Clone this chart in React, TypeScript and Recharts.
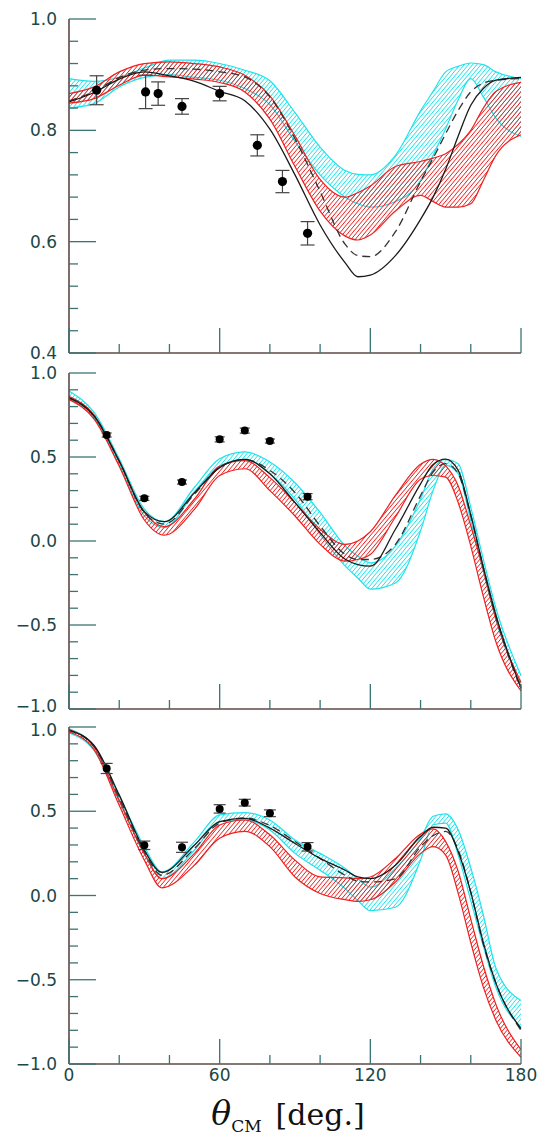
import React from 'react';
import { ComposedChart, Area, Line, Scatter, ErrorBar, XAxis, YAxis } from 'recharts';

// ---- top panel ----
const theta1 = [0, 10, 20, 30, 40, 50, 60, 70, 80, 90, 100, 110, 115, 120, 130, 140, 145, 150, 155, 160, 165, 170, 180];
const cyanLo1 = [0.840, 0.848, 0.878, 0.895, 0.900, 0.895, 0.890, 0.875, 0.846, 0.780, 0.720, 0.680, 0.668, 0.662, 0.672, 0.710, 0.755, 0.803, 0.855, 0.893, 0.860, 0.822, 0.789];
const cyanHi1 = [0.893, 0.888, 0.895, 0.912, 0.926, 0.926, 0.920, 0.908, 0.889, 0.832, 0.770, 0.728, 0.721, 0.720, 0.755, 0.835, 0.870, 0.905, 0.915, 0.921, 0.918, 0.905, 0.893];
const redLo1 = [0.849, 0.857, 0.881, 0.899, 0.896, 0.892, 0.886, 0.869, 0.820, 0.735, 0.655, 0.610, 0.603, 0.612, 0.655, 0.683, 0.672, 0.662, 0.662, 0.668, 0.710, 0.755, 0.792];
const redHi1 = [0.866, 0.878, 0.905, 0.920, 0.923, 0.920, 0.914, 0.899, 0.862, 0.790, 0.712, 0.680, 0.688, 0.700, 0.735, 0.744, 0.750, 0.758, 0.775, 0.800, 0.840, 0.870, 0.886];
const solid1 = [0.851, 0.868, 0.892, 0.905, 0.898, 0.888, 0.870, 0.853, 0.802, 0.720, 0.630, 0.562, 0.537, 0.540, 0.575, 0.640, 0.680, 0.730, 0.790, 0.845, 0.875, 0.890, 0.895];
const dashed1 = [0.853, 0.870, 0.895, 0.908, 0.911, 0.910, 0.905, 0.896, 0.860, 0.785, 0.690, 0.595, 0.575, 0.573, 0.618, 0.708, 0.750, 0.794, 0.836, 0.869, 0.885, 0.890, 0.893];
const dotX1 = [11, 30.5, 35.5, 45, 60, 75, 85, 95];
const dotY1 = [0.872, 0.869, 0.866, 0.843, 0.866, 0.773, 0.708, 0.615];
const dotE1 = [0.026, 0.030, 0.021, 0.014, 0.013, 0.019, 0.020, 0.021];

// ---- middle panel ----
const theta2 = [0, 10, 20, 30, 38, 50, 60, 70, 80, 90, 100, 110, 115, 120, 130, 140, 145, 150, 155, 160, 165, 170, 180];
const cyanLo2 = [0.843, 0.735, 0.455, 0.15, 0.08, 0.29, 0.447, 0.486, 0.40, 0.248, 0.04, -0.15, -0.22, -0.287, -0.25, 0.06, 0.30, 0.45, 0.40, 0.12, -0.18, -0.47, -0.86];
const cyanHi2 = [0.893, 0.765, 0.49, 0.19, 0.115, 0.32, 0.49, 0.53, 0.47, 0.347, 0.17, -0.03, -0.09, -0.13, -0.03, 0.25, 0.43, 0.485, 0.46, 0.20, -0.11, -0.40, -0.80];
const redLo2 = [0.843, 0.725, 0.445, 0.125, 0.035, 0.19, 0.39, 0.43, 0.30, 0.149, -0.02, -0.12, -0.11, -0.08, 0.143, 0.367, 0.39, 0.38, 0.228, -0.03, -0.33, -0.60, -0.893];
const redHi2 = [0.862, 0.75, 0.475, 0.17, 0.085, 0.25, 0.445, 0.478, 0.377, 0.228, 0.07, -0.02, 0.0, 0.055, 0.272, 0.457, 0.486, 0.447, 0.328, 0.09, -0.17, -0.46, -0.843];
const solid2 = [0.853, 0.744, 0.476, 0.175, 0.115, 0.288, 0.437, 0.486, 0.40, 0.228, 0.05, -0.109, -0.14, -0.15, 0.07, 0.34, 0.455, 0.487, 0.42, 0.155, -0.155, -0.44, -0.875];
const dashed2 = [0.85, 0.745, 0.475, 0.17, 0.10, 0.28, 0.44, 0.485, 0.42, 0.288, 0.09, -0.08, -0.11, -0.11, -0.02, 0.27, 0.41, 0.46, 0.40, 0.15, -0.16, -0.45, -0.88];
const dotX2 = [15, 30, 45, 60, 70, 80, 95];
const dotY2 = [0.631, 0.254, 0.351, 0.605, 0.657, 0.595, 0.264];
const dotE2 = [0.012, 0.012, 0.012, 0.015, 0.015, 0.012, 0.018];

// ---- bottom panel ----
const theta3 = [0, 10, 20, 30, 37, 50, 60, 70, 80, 90, 100, 110, 115, 120, 130, 140, 145, 150, 155, 160, 165, 170, 180];
const cyanLo3 = [0.965, 0.86, 0.56, 0.245, 0.10, 0.27, 0.438, 0.448, 0.389, 0.25, 0.15, 0.04, -0.03, -0.09, -0.07, 0.21, 0.42, 0.43, 0.24, -0.03, -0.30, -0.545, -0.782];
const cyanHi3 = [0.99, 0.885, 0.59, 0.29, 0.14, 0.32, 0.478, 0.492, 0.448, 0.329, 0.25, 0.16, 0.10, 0.05, 0.16, 0.34, 0.47, 0.485, 0.39, 0.165, -0.115, -0.43, -0.623];
const redLo3 = [0.97, 0.865, 0.535, 0.21, 0.045, 0.18, 0.34, 0.38, 0.29, 0.11, 0.012, -0.025, -0.035, -0.025, 0.08, 0.25, 0.29, 0.24, 0.013, -0.28, -0.544, -0.74, -0.96];
const redHi3 = [0.985, 0.88, 0.565, 0.25, 0.10, 0.25, 0.418, 0.448, 0.36, 0.21, 0.111, 0.105, 0.10, 0.11, 0.22, 0.365, 0.395, 0.32, 0.143, -0.14, -0.417, -0.646, -0.915];
const solid3 = [0.98, 0.89, 0.597, 0.27, 0.137, 0.30, 0.438, 0.458, 0.40, 0.309, 0.22, 0.15, 0.11, 0.10, 0.18, 0.35, 0.405, 0.40, 0.26, 0.02, -0.28, -0.52, -0.79];
const dashed3 = [0.98, 0.885, 0.58, 0.26, 0.12, 0.28, 0.43, 0.46, 0.415, 0.32, 0.22, 0.12, 0.085, 0.08, 0.10, 0.29, 0.355, 0.38, 0.27, 0.02, -0.29, -0.52, -0.80];
const dotX3 = [15, 30, 45, 60, 70, 80, 95];
const dotY3 = [0.754, 0.298, 0.286, 0.514, 0.551, 0.488, 0.289];
const dotE3 = [0.03, 0.025, 0.03, 0.025, 0.02, 0.02, 0.025];

// ---- axes ----
const xTicks = [0, 20, 40, 60, 80, 100, 120, 140, 160, 180];
const xMajor = [0, 60, 120, 180];
const yTicks1 = [0.4, 0.44, 0.48, 0.52, 0.56, 0.6, 0.64, 0.68, 0.72, 0.76, 0.8, 0.84, 0.88, 0.92, 0.96, 1.0];
const yMajor1 = [0.4, 0.6, 0.8, 1.0];
const yTicksFull = [-1, -0.9, -0.8, -0.7, -0.6, -0.5, -0.4, -0.3, -0.2, -0.1, 0, 0.1, 0.2, 0.3, 0.4, 0.5, 0.6, 0.7, 0.8, 0.9, 1.0];
const yMajorFull = [-1, -0.5, 0, 0.5, 1.0];

const TICK = '#3a7474';
const AXIS = '#5e4846';
const LABEL = '#1c4747';
const CYAN = '#1fe3ec';
const RED = '#ee2020';
const FONT = '"DejaVu Sans", sans-serif';

const isMajor = (v: number, majors: number[]) => majors.some((m) => Math.abs(m - v) < 1e-6);
const fmt = (v: number) => (v < 0 ? '\u2212' + Math.abs(v).toFixed(1) : v.toFixed(1));

function YTick(props: any) {
  const { x, y, payload, majors, topNudge, bottomNudge, lo, hi } = props;
  const major = isMajor(payload.value, majors);
  const ax = x + 12;
  let dy = 0;
  if (Math.abs(payload.value - hi) < 1e-6) dy = topNudge || 0;
  if (Math.abs(payload.value - lo) < 1e-6) dy = bottomNudge || 0;
  return (
    <g>
      <line x1={ax} x2={ax + (major ? 27 : 9)} y1={y} y2={y} stroke={TICK} strokeWidth={1.3} />
      {major && (
        <text x={x} y={y + dy} dy="0.36em" textAnchor="end" fill={LABEL} fontSize={17} fontFamily={FONT}>
          {fmt(payload.value)}
        </text>
      )}
    </g>
  );
}

function XTick(props: any) {
  const { x, y, payload, showLabel } = props;
  const major = isMajor(payload.value, xMajor);
  return (
    <g>
      <line x1={x} x2={x} y1={y} y2={y - (major ? 25 : 9)} stroke={TICK} strokeWidth={1.3} />
      {showLabel && major && (
        <text x={x} y={y + 17} textAnchor="middle" fill={LABEL} fontSize={17} fontFamily={FONT}>
          {payload.value}
        </text>
      )}
    </g>
  );
}

function Panel(p: any) {
  const rows = p.xs.map((x: number, i: number) => ({
    x,
    cyan: [p.cLo[i], p.cHi[i]],
    red: [p.rLo[i], p.rHi[i]],
    solid: p.solid[i],
    dashed: p.dashed[i],
  }));
  const pts = p.dx.map((x: number, i: number) => ({ x, y: p.dy[i], err: p.de[i] }));
  const cid = 'hatchC' + p.id;
  const rid = 'hatchR' + p.id;
  return (
    <div style={{ position: 'absolute', left: 0, top: p.top }}>
      <ComposedChart
        width={538}
        height={p.height}
        data={rows}
        margin={{ top: p.marginTop, right: 17, bottom: 0, left: 0 }}
      >
        <defs>
          <pattern id={cid} width="3.2" height="3.2" patternUnits="userSpaceOnUse" patternTransform="rotate(40)">
            <line x1="0" y1="0" x2="0" y2="3.2" stroke={CYAN} strokeWidth="1.6" />
          </pattern>
          <pattern id={rid} width="3.2" height="3.2" patternUnits="userSpaceOnUse" patternTransform="rotate(40)">
            <line x1="0" y1="0" x2="0" y2="3.2" stroke={RED} strokeWidth="1.6" />
          </pattern>
        </defs>
        <XAxis
          dataKey="x"
          type="number"
          domain={[0, 180]}
          ticks={xTicks}
          interval={0}
          height={p.xAxisH}
          tickSize={0}
          tickMargin={0}
          tickLine={false}
          axisLine={{ stroke: AXIS, strokeWidth: 1.6 }}
          tick={(tp: any) => <XTick {...tp} showLabel={p.showX} />}
        />
        <YAxis
          type="number"
          domain={p.domain}
          allowDataOverflow
          ticks={p.yTicks}
          interval={0}
          width={69}
          tickSize={0}
          tickMargin={12}
          tickLine={false}
          axisLine={{ stroke: AXIS, strokeWidth: 1.6 }}
          tick={(tp: any) => (
            <YTick
              {...tp}
              majors={p.yMajor}
              lo={p.domain[0]}
              hi={p.domain[1]}
              topNudge={p.topNudge}
              bottomNudge={p.bottomNudge}
            />
          )}
        />
        <Area
          type="monotone"
          dataKey="cyan"
          stroke={CYAN}
          strokeWidth={1.2}
          fill={`url(#${cid})`}
          fillOpacity={1}
          isAnimationActive={false}
          dot={false}
          activeDot={false}
        />
        <Area
          type="monotone"
          dataKey="red"
          stroke={RED}
          strokeWidth={1.2}
          fill={`url(#${rid})`}
          fillOpacity={1}
          isAnimationActive={false}
          dot={false}
          activeDot={false}
        />
        <Line
          type="monotone"
          dataKey="dashed"
          stroke="#333"
          strokeWidth={1.3}
          strokeDasharray="8 5"
          dot={false}
          activeDot={false}
          isAnimationActive={false}
        />
        <Line
          type="monotone"
          dataKey="solid"
          stroke="#1a1a1a"
          strokeWidth={1.3}
          dot={false}
          activeDot={false}
          isAnimationActive={false}
        />
        <Scatter
          data={pts}
          dataKey="y"
          isAnimationActive={false}
          shape={(sp: any) => <circle cx={sp.cx} cy={sp.cy} r={p.dotR} fill="#000" />}
        >
          <ErrorBar dataKey="err" direction="y" width={p.capW} stroke="#444" strokeWidth={1.2} isAnimationActive={false} />
        </Scatter>
      </ComposedChart>
    </div>
  );
}

export default function App() {
  return (
    <div style={{ position: 'absolute', left: 0, top: 0, width: 538, height: 1146, background: '#fff', overflow: 'hidden' }}>
      <Panel
        id={1}
        top={0}
        height={372}
        marginTop={19}
        xAxisH={19}
        showX={false}
        xs={theta1}
        cLo={cyanLo1}
        cHi={cyanHi1}
        rLo={redLo1}
        rHi={redHi1}
        solid={solid1}
        dashed={dashed1}
        dx={dotX1}
        dy={dotY1}
        de={dotE1}
        domain={[0.4, 1.0]}
        yTicks={yTicks1}
        yMajor={yMajor1}
        dotR={4.6}
        capW={7}
      />
      <Panel
        id={2}
        top={354}
        height={375}
        marginTop={19}
        xAxisH={20}
        showX={false}
        xs={theta2}
        cLo={cyanLo2}
        cHi={cyanHi2}
        rLo={redLo2}
        rHi={redHi2}
        solid={solid2}
        dashed={dashed2}
        dx={dotX2}
        dy={dotY2}
        de={dotE2}
        domain={[-1, 1]}
        yTicks={yTicksFull}
        yMajor={yMajorFull}
        bottomNudge={-3}
        dotR={4}
        capW={5}
      />
      <Panel
        id={3}
        top={708}
        height={396}
        marginTop={19}
        xAxisH={40}
        showX={true}
        xs={theta3}
        cLo={cyanLo3}
        cHi={cyanHi3}
        rLo={redLo3}
        rHi={redHi3}
        solid={solid3}
        dashed={dashed3}
        dx={dotX3}
        dy={dotY3}
        de={dotE3}
        domain={[-1, 1]}
        yTicks={yTicksFull}
        yMajor={yMajorFull}
        topNudge={3}
        dotR={4}
        capW={6}
      />
      <div
        style={{
          position: 'absolute',
          left: 0,
          width: 576,
          top: 1096,
          textAlign: 'center',
          fontFamily: '"DejaVu Serif", serif',
          fontSize: 30,
          lineHeight: '36px',
          color: '#111',
        }}
      >
        <span style={{ fontStyle: 'italic', fontSize: 33 }}>θ</span>
        <span style={{ fontSize: 17, position: 'relative', top: 7 }}>CM</span>
        <span style={{ marginLeft: 14 }}>[deg.]</span>
      </div>
    </div>
  );
}
